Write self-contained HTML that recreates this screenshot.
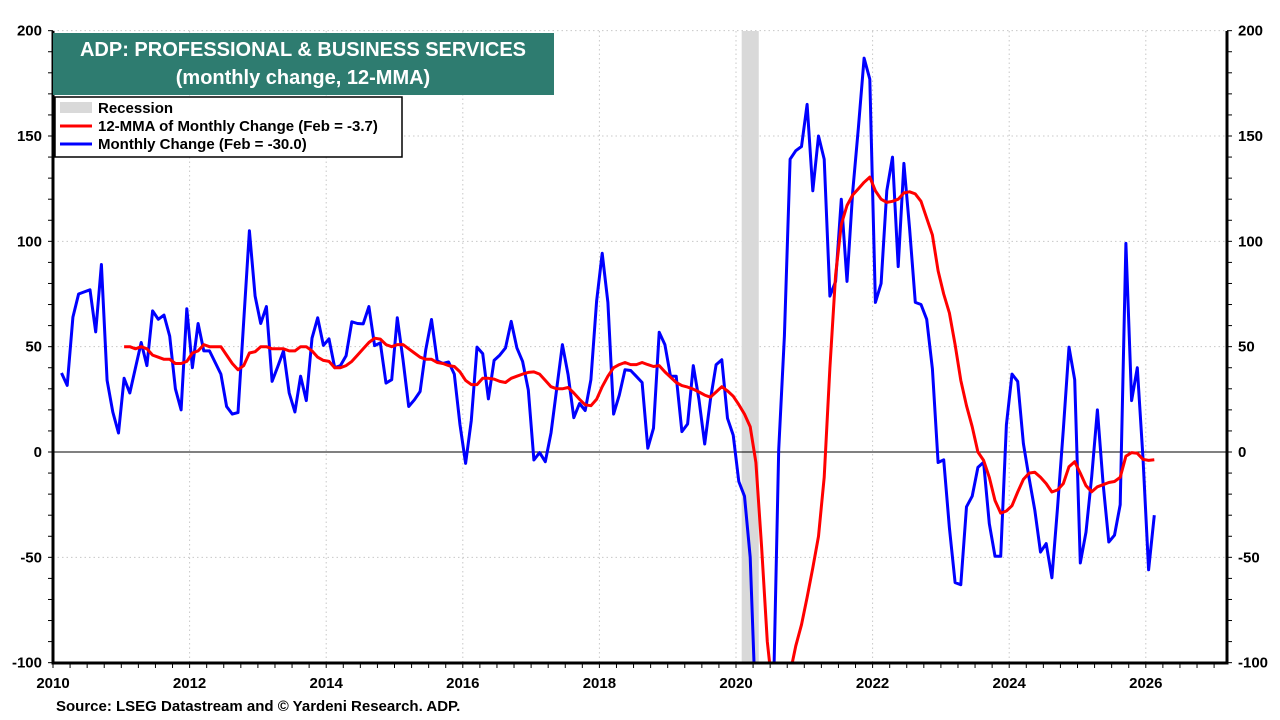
<!DOCTYPE html>
<html><head><meta charset="utf-8"><style>
html,body{margin:0;padding:0;background:#fff;width:1280px;height:720px;overflow:hidden;}
svg{display:block;font-family:"Liberation Sans",Arial,sans-serif;}
</style></head><body>
<svg id="chart" width="1280" height="720" viewBox="0 0 1280 720">
<defs><clipPath id="plotclip"><rect x="53" y="31" width="1174" height="632"/></clipPath></defs>
<g id="grid"></g>
<g id="recess" clip-path="url(#plotclip)"></g>
<line id="zero" stroke="#000" stroke-width="1"/>
<g clip-path="url(#plotclip)">
<path id="blue" fill="none" stroke="#0000ff" stroke-width="3" stroke-linejoin="round"/>
<path id="red" fill="none" stroke="#ff0000" stroke-width="3" stroke-linejoin="round"/>
</g>
<g id="axes"></g>
<g>
<rect x="53" y="33" width="501" height="62" fill="#2e7c70"/>
<text x="303" y="56" text-anchor="middle" fill="#fff" font-size="20" font-weight="bold">ADP: PROFESSIONAL &amp; BUSINESS SERVICES</text>
<text x="303" y="84" text-anchor="middle" fill="#fff" font-size="20" font-weight="bold">(monthly change, 12-MMA)</text>
</g>
<g>
<rect x="55" y="97" width="347" height="60" fill="#fff" stroke="#000" stroke-width="1.5"/>
<g><rect x="60" y="102" width="32" height="11" fill="#d9d9d9"/><text x="98" y="113" font-size="15" font-weight="bold">Recession</text></g>
<g><line x1="60" y1="126" x2="92" y2="126" stroke="#ff0000" stroke-width="3"/><text x="98" y="131" font-size="15" font-weight="bold">12-MMA of Monthly Change (Feb = -3.7)</text></g>
<g><line x1="60" y1="144" x2="92" y2="144" stroke="#0000ff" stroke-width="3"/><text x="98" y="149" font-size="15" font-weight="bold">Monthly Change (Feb = -30.0)</text></g>
</g>
<text x="56" y="711" font-size="15" font-weight="bold">Source: LSEG Datastream and © Yardeni Research. ADP.</text>
</svg>
<script>
const yTicks=[-100,-50,0,50,100,150,200];
const xYears=[2010,2012,2014,2016,2018,2020,2022,2024,2026];
const startDate=2010+1.5/12; // Feb 2010 (mid-month)
const monthly=[37.5,31.6,64,75,76,77,57,89,34,19,
9,35,28,40,52,41,67,63,65,55,
30,20,68,40,61,48,48,42.5,37,21.6,
18,18.7,62,105,74,61,69,33.5,40.6,48,
28,19,36,24.4,54,63.7,50.6,53.7,40,41,
45.7,61.8,61,60.8,69,50.5,51.8,32.7,34.3,63.7,
43.8,21.6,24.8,28.7,48.6,62.9,43.3,42,42.7,37,
12.9,-5.4,15,49.8,46.7,25.2,43.5,46,49.4,62,
49.4,43,29.5,-3.8,-0.3,-4.6,9,30,51,36.7,
16.3,23,19.7,34.3,71.6,94.3,71,18,27,39,
38.7,35.9,33,1.8,11.3,56.8,51,36,36,9.7,
13.3,41,24.8,3.8,24.8,41.4,43.8,16,8,-14,
-21,-50,-400,-250,-220,-200,1,55,139,143,
145,165,124,150,139,74,81,120,81,123.5,
154,187,177,71,80,124,140,88,137,106,
71,70,63,39.5,-5,-3.7,-36,-62,-63,-26,
-21,-7.3,-4.9,-34,-49.5,-49.5,12.9,37,33.5,4,
-12.4,-27.6,-47.5,-43.5,-59.7,-26,10.5,49.8,34.3,-52.7,
-38,-11.7,20,-15,-42.7,-39.5,-25,99,24.4,40,
-3,-55.9,-30];
const mmaStart=2011+0.5/12; // Jan 2011 (mid-month)
const mma=[50,50,49,50,49,46,45,44,44,42,42,43,47,48,51,50,50,50,46,42,
39,41,47,47.6,50,50,49,49,49,48,48,50,50,48,45,43.5,43,40,40,41,
43,46,49,52,54,53.6,51,50,51,51,49,47,45,44,44,42.5,42,41,40.6,38,
34,32,32,35,35,34.6,33.5,33,35,36,37,37.8,38,37,34,31,30,30,30.6,28,
25,22.4,22,25,31,36,40,41.5,42.5,41.5,41.5,42.5,41.5,40.6,41,38,35.5,33,31.5,30.8,
29.8,28.5,27,26,28.5,31,29,26.5,22.5,18,12,-5,-45,-90,-115,-125,-120,-105,-92,-82,
-69,-55,-40,-12,40,84,108,117,122,125,128,130.5,124,120,118.5,119,120,123,123.5,122.5,
119,111,103,86,75,66,51,34,22,12,0,-4,-12,-23,-29,-28,-25.5,-19,-13,-10,
-9.6,-12,-15,-19,-18,-15,-7,-4.6,-10,-16,-18.9,-16.5,-15.5,-14.5,-14,-12,-2,-0.3,-0.6,-3.5,
-4,-3.7];
const recessions=[[2020+1/12,2020+4/12]];

const X0=53,PX_PER_YEAR=68.3,Y0=452,PX_PER_UNIT=632/300,Y_FLOOR=-125;
const xs=t=>X0+(t-2010)*PX_PER_YEAR;
const ys=v=>Y0-v*PX_PER_UNIT;
const NS='http://www.w3.org/2000/svg';
function mk(tag,attrs,parent){const e=document.createElementNS(NS,tag);for(const k in attrs)e.setAttribute(k,attrs[k]);parent.appendChild(e);return e;}
const grid=document.getElementById('grid'),axes=document.getElementById('axes'),rec=document.getElementById('recess');
const L=53,R=1227,T=31,B=663;
yTicks.forEach(v=>{
  if(v!==0&&v!==-100){const g=mk('line',{x1:L,x2:R,y1:ys(v),y2:ys(v),stroke:'#c8c8c8','stroke-width':1,'stroke-dasharray':'1.5 3'},grid);
  
  }
  const tl=mk('text',{x:42,y:ys(v)+5,'text-anchor':'end','font-size':15,'font-weight':'bold'},axes);tl.textContent=v;
  
  
  const tr=mk('text',{x:1238,y:ys(v)+5,'text-anchor':'start','font-size':15,'font-weight':'bold'},axes);tr.textContent=v;
  
  
});
for(let v=-100;v<=200;v+=10){
  mk('line',{x1:L-5,x2:L,y1:ys(v),y2:ys(v),stroke:'#000','stroke-width':1},axes);
  mk('line',{x1:R,x2:R+5,y1:ys(v),y2:ys(v),stroke:'#000','stroke-width':1},axes);
}
xYears.forEach(yr=>{
  const g=mk('line',{x1:xs(yr),x2:xs(yr),y1:T,y2:B,stroke:'#c8c8c8','stroke-width':1,'stroke-dasharray':'1.5 3'},grid);
  
  
  const t=mk('text',{x:xs(yr),y:688,'text-anchor':'middle','font-size':15,'font-weight':'bold'},axes);t.textContent=yr;
  
  
});
for(let q=2010;q<=2027.1;q+=0.25){mk('line',{x1:xs(q),x2:xs(q),y1:B,y2:B+5,stroke:'#000','stroke-width':1},axes);}
mk('line',{x1:L,x2:L,y1:T,y2:B+1.5,stroke:'#000','stroke-width':3},axes);
mk('line',{x1:R,x2:R,y1:T,y2:B+1.5,stroke:'#000','stroke-width':3},axes);
mk('line',{x1:L,x2:R,y1:B,y2:B,stroke:'#000','stroke-width':3},axes);
const z=document.getElementById('zero');z.setAttribute('x1',L);z.setAttribute('x2',R);z.setAttribute('y1',ys(0));z.setAttribute('y2',ys(0));
recessions.forEach(r=>{const b=mk('rect',{x:xs(r[0]),y:T,width:xs(r[1])-xs(r[0]),height:B-T,fill:'#d9d9d9'},rec);
  
  });
function pathFrom(arr,start){return arr.map((v,i)=>(i?'L':'M')+xs(start+i/12).toFixed(1)+','+ys(Math.max(v,Y_FLOOR)).toFixed(1)).join('');}
document.getElementById('blue').setAttribute('d',pathFrom(monthly,startDate));
document.getElementById('red').setAttribute('d',pathFrom(mma,mmaStart));
</script>
</body></html>
